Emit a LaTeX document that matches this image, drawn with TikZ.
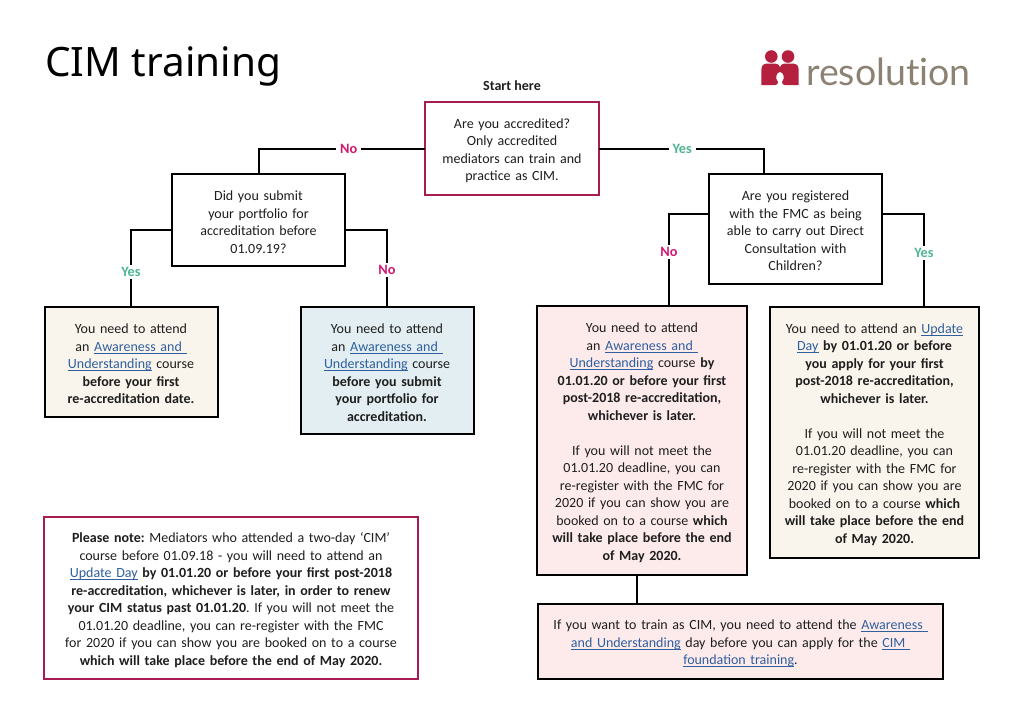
\documentclass[tikz,border=0pt]{standalone}
\usepackage{fontspec}
\setmainfont{Carlito}
\newfontfamily\titlefont{Noto Sans}
\newfontfamily\logofont[Ligatures=NoCommon]{Lato}
\usetikzlibrary{positioning}
\definecolor{cimtext}{HTML}{1E1E1E}
\definecolor{cimlink}{HTML}{2F5F9E}
\definecolor{cimrim}{HTML}{A81C54}
\definecolor{cimno}{HTML}{D4176F}
\definecolor{cimyes}{HTML}{4FB595}
\definecolor{cimcream}{HTML}{FAF5EC}
\definecolor{cimblue}{HTML}{E2EEF1}
\definecolor{cimpink}{HTML}{FDEBEC}
\definecolor{logored}{HTML}{B5203F}
\definecolor{logogrey}{HTML}{8C8273}
\tikzset{
  cim edge/.style={draw=black, line width=2pt},
  cim box/.style={draw=black, fill=white, align=center, inner xsep=0pt, inner ysep=0pt,
    outer sep=0pt, text=cimtext, line width=2pt,
    execute at begin node={\frenchspacing\rule{0pt}{14pt}},
    font=\fontsize{14}{17.5}\selectfont},
  cim rim/.style={cim box, draw=cimrim},
  cim yes/.style={fill=white, inner xsep=4pt, inner ysep=2pt, text=cimyes,
    font=\fontsize{14.3}{17}\selectfont\bfseries},
  cim no/.style={fill=white, inner xsep=4pt, inner ysep=2pt, text=cimno,
    font=\fontsize{14.3}{17}\selectfont\bfseries},
}
\newcommand{\lnk}[1]{\leavevmode\begingroup\color{cimlink}\setbox0=\hbox{#1}\rlap{\rule[-2.2pt]{\wd0}{0.8pt}}\box0\endgroup}
\begin{document}
\begin{tikzpicture}[x=1pt, y=-1pt]
 \useasboundingbox (0,0) rectangle (1024,724);
 \node[anchor=west, font=\fontsize{40.5}{48}\titlefont, text=black, inner sep=0pt] (title) at (45,66) {CIM training};

 % logo
 \fill[logored] (771.3,56.5) circle (6.3) (788,56.5) circle (6.3);
 \fill[logored, even odd rule] (761.3,85) -- (761.3,70) .. controls (761.3,65) and (764,63.5) .. (768,63.5)
   -- (775,63.5) .. controls (778,63.5) and (779,65) .. (780,67) .. controls (781,65) and (782,63.5) .. (785,63.5)
   -- (792,63.5) .. controls (796,63.5) and (798.7,65) .. (798.7,70) -- (798.7,85) -- (785,85)
   .. controls (783,85) and (782,84) .. (782,82) .. controls (785,79) and (784,72) .. (780,72)
   .. controls (776,72) and (775,79) .. (778,82) .. controls (778,84) and (777,85) .. (775,85) -- cycle;
 \node[anchor=base west, font=\fontsize{37.5}{48}\logofont, text=logogrey, inner sep=0pt] (logo) at (806,85) {resolution};

 % questions
 \node[cim rim, text width=174pt, minimum height=93pt] (top) at (512,148.5)
   {Are you accredited?\\Only accredited\\mediators can train and\\practice as CIM.};
 \node[above=11pt of top, font=\fontsize{14}{16}\selectfont\bfseries, text=cimtext, inner sep=0pt] (start) {Start here};
 \node[cim box, text width=173pt, minimum height=92pt] (did) at (258.5,220)
   {Did you submit\\your portfolio for\\accreditation before\\01.09.19?};
 \node[cim box, text width=173pt, minimum height=110pt] (reg) at (795.5,229)
   {Are you registered\\with the FMC as being\\able to carry out Direct\\Consultation with\\Children?};

 % outcomes
 \node[cim box, fill=cimcream, text width=173pt, minimum height=110pt] (ya) at (131,362)
   {You need to attend\\an \lnk{Awareness and~}\\\lnk{Understanding} course\\\textbf{before your first}\\\textbf{re-accreditation date.}};
 \node[cim box, fill=cimblue, text width=173pt, minimum height=127pt] (nb) at (387,370.5)
   {You need to attend\\an \lnk{Awareness and~}\\\lnk{Understanding} course\\\textbf{before you submit}\\\textbf{your portfolio for}\\\textbf{accreditation.}};
 \node[cim box, fill=cimpink, text width=210pt, minimum height=269pt] (nc) at (642,440.5)
   {You need to attend\\an \lnk{Awareness and~}\\\lnk{Understanding} course \textbf{by}\\\textbf{01.01.20 or before your first}\\\textbf{post-2018 re-accreditation,}\\\textbf{whichever is later.}\\[17.5pt]
    If you will not meet the\\01.01.20 deadline, you can\\re-register with the FMC for\\2020 if you can show you are\\booked on to a course \textbf{which}\\\textbf{will take place before the end}\\\textbf{of May 2020.}};
 \node[cim box, fill=cimcream, text width=209pt, minimum height=251pt] (yd) at (874.5,432.5)
   {You need to attend an \lnk{Update}\\\lnk{Day} \textbf{by 01.01.20 or before}\\\textbf{you apply for your first}\\\textbf{post-2018 re-accreditation,}\\\textbf{whichever is later.}\\[17.5pt]
    If you will not meet the\\01.01.20 deadline, you can\\re-register with the FMC for\\2020 if you can show you are\\booked on to a course \textbf{which}\\\textbf{will take place before the end}\\\textbf{of May 2020.}};
 \node[cim box, fill=cimpink, text width=405pt, minimum height=75pt] (train) at (740.5,641.5)
   {If you want to train as CIM, you need to attend the \lnk{Awareness~}\\\lnk{and Understanding} day before you can apply for the \lnk{CIM~}\\\lnk{foundation training}.};
 \node[cim rim, text width=374pt, minimum height=162pt] (note) at (231,598)
   {\textbf{Please note:} Mediators who attended a two-day ‘CIM’\\course before 01.09.18 - you will need to attend an\\\lnk{Update Day} \textbf{by 01.01.20 or before your first post-2018}\\\textbf{re-accreditation, whichever is later, in order to renew}\\\textbf{your CIM status past 01.01.20}. If you will not meet the\\01.01.20 deadline, you can re-register with the FMC\\for 2020 if you can show you are booked on to a course\\\textbf{which will take place before the end of May 2020.}};

 % connectors
 \draw[cim edge] (top.west) -| node[cim no, pos=0.229] (topno) {No} (did.north);
 \draw[cim edge] (top.east) -| node[cim yes, pos=0.253] (topyes) {Yes} ([xshift=-32pt]reg.north);
 \draw[cim edge] ([yshift=-10pt]did.west) -| node[cim yes, pos=0.773] (didyes) {Yes} (ya.north);
 \draw[cim edge] ([yshift=-10pt]did.east) -| node[cim no, pos=0.76] (didno) {No} (nb.north);
 \draw[cim edge] ([yshift=15pt]reg.west) -| node[cim no, pos=0.707] (regno) {No} ([xshift=27pt]nc.north);
 \draw[cim edge] ([yshift=15pt]reg.east) -| node[cim yes, pos=0.71] (regyes) {Yes} ([xshift=49.5pt]yd.north);
 \draw[cim edge] ([xshift=-5pt]nc.south) -- ([xshift=-103.5pt]train.north);
\end{tikzpicture}
\end{document}
